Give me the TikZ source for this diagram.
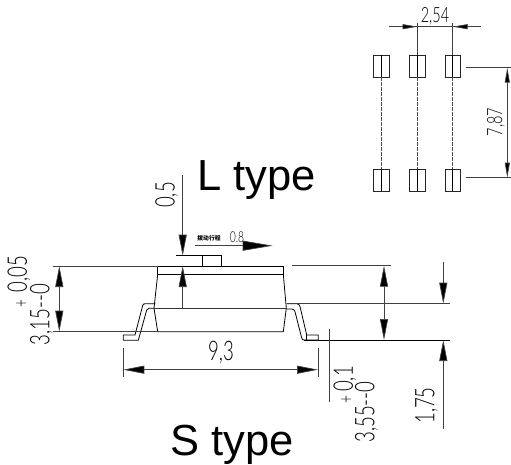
\documentclass[tikz,border=0pt]{standalone}
\usepackage{fontspec}
\usetikzlibrary{arrows.meta}
\setmainfont{Liberation Sans}
\newfontfamily\cadfont[FakeStretch=0.69]{Lato Light}
\newfontfamily\cjk{Noto Sans CJK SC}

\begin{document}
\begin{tikzpicture}[x=1pt, y=-1pt, line width=0.8pt,
    dimline/.style={line width=0.7pt, black!75},
    dimarrow/.style={line width=0.7pt, black!75, {Triangle[length=21pt,width=8pt,fill=black]}-{Triangle[length=21pt,width=8pt,fill=black]}},
    endarrow/.style={line width=0.7pt, black!75, -{Triangle[length=21pt,width=8pt,fill=black]}},
    pad/.style={draw, line width=0.6pt, black!85, minimum width=15.5pt, minimum height=22pt, inner sep=0pt},
    cadtext/.style={font=\cadfont\fontsize{27}{27}\selectfont, inner sep=0pt},
    smalltext/.style={font=\cadfont\fontsize{21}{21}\selectfont, inner sep=0pt},
    plustext/.style={font=\cadfont\fontsize{20}{20}\selectfont, inner sep=0pt},
    bigtext/.style={font=\fontsize{43.5}{43.5}\selectfont, inner sep=0pt},
    ]
    \useasboundingbox (0,0) rectangle (511,465);

    % pads, top right
    \foreach \x/\n in {381.5/a, 417.5/b, 452.7/c} {
        \node[pad] (top\n) at (\x,66) {};
        \node[pad] (bot\n) at (\x,180) {};
        \draw[line width=0.5pt, black!70, dashed, dash pattern=on 4pt off 1pt] (top\n.south) -- (bot\n.north);
        \draw[line width=0.6pt] (top\n.north) -- (top\n.south);
        \draw[line width=0.6pt] (bot\n.north) -- (bot\n.south);
    }
    \coordinate (extb) at (417.5,23);
    \coordinate (extc) at (452.7,23);
    \draw[dimline] (extb) -- (topb.north);
    \draw[dimline] (extc) -- (topc.north);

    % pitch dimension
    \draw[dimline] (389,26.7) -- (481,26.7);
    \draw[endarrow, -{Triangle[length=15pt,width=5pt,fill=black]}] (395,26.7) -- (417.5,26.7);
    \draw[endarrow, -{Triangle[length=15pt,width=5pt,fill=black]}] (475,26.7) -- (452.7,26.7);
    \node[smalltext] (pitch) at (435,16) {2,54};

    % row spacing dimension
    \draw[dimline] (465.7,67.7) -- (511,67.7);
    \draw[dimline] (465.7,177.7) -- (511,177.7);
    \draw[dimarrow, {Triangle[length=15pt,width=5pt,fill=black]}-{Triangle[length=15pt,width=5pt,fill=black]}] (507.3,67.7) -- (507.3,177.7);
    \node[smalltext, rotate=90] (row) at (496,122) {7,87};

    % body
    \draw (157.7,266) -- (283.3,266) -- (283.3,274.3) -- (157.7,274.3) -- cycle;
    \draw (157.7,274.3) -- (154,308.3) -- (157.7,331.7) -- (283.3,331.7) -- (286.3,308.3) -- (283.3,274.3);
    \draw[black!80] (154,308.3) -- (286.3,308.3);

    % button
    \draw (176,255.7) -- (221.7,255.7) -- (221.7,266);
    \draw (202.7,255.7) -- (202.7,266);

    % leads
    \draw (155.3,303.7) -- (145.7,303.7) .. controls (143.5,303.7) and (143.2,304) .. (142.7,305.5) -- (135,335) -- (123.3,335) -- (123.3,340.3) -- (138.3,340.3) -- (146.7,310) .. controls (147,309) and (147.5,308.3) .. (149,308.3) -- (154,308.3);
    \draw (286.7,303.7) -- (296.7,303.7) .. controls (298.5,303.7) and (299.5,305) .. (300,306.5) -- (306.7,335) -- (318.3,335) -- (318.3,340) -- (304,340) .. controls (302.5,340) and (302,339) .. (301.7,338) -- (295,311.7) .. controls (294.5,310) and (293.5,309) .. (291.7,309) -- (286.3,309);
    \draw (306.7,335) -- (306.7,340);

    % extension lines
    \draw[dimline] (52.7,266) -- (157.7,266);
    \draw[dimline] (52.7,331.7) -- (157.7,331.7);
    \draw[dimline] (291.7,265.7) -- (390.7,265.7);
    \draw[dimline] (286.7,303.7) -- (450,303.7);
    \draw[black] (304,340) -- (450,340);
    \draw[dimline] (329.3,329) -- (329.3,401.7);

    % dimensions
    \draw[dimarrow] (59.3,266) -- (59.3,331.7);
    \draw[dimarrow] (384,265.7) -- (384,340);
    \draw[endarrow] (182.7,175) -- (182.7,255.7);
    \draw[endarrow] (182.7,308.3) -- (182.7,266);
    \draw[endarrow] (443.3,261.7) -- (443.3,303.7);
    \draw[endarrow] (443.3,429) -- (443.3,340);
    \draw[dimline] (123.3,348) -- (123.3,376.7);
    \draw[dimline] (318,348) -- (318,376.7);
    \draw[dimarrow] (123.3,369.7) -- (318,369.7);

    % travel arrow
    \draw[endarrow, -{Triangle[length=30pt,width=10pt,fill=black]}] (195,245.7) -- (272.7,245.7);
    \node[inner sep=0pt, font=\cjk\bfseries\fontsize{5.8}{6}\selectfont] (travel) at (209,238.7) {拨动行程};
    \node[inner sep=0pt, font=\cadfont\fontsize{15}{15}\selectfont] (travelval) at (237,237) {0.8};

    % labels
    \node[cadtext, rotate=90] (gap) at (166.7,195) {0,5};
    \node[cadtext, rotate=90] (tolb) at (19,274) {0,05};
    \node[plustext, rotate=90] (tolbp) at (22,303) {+};
    \node[cadtext, rotate=90] (heightb) at (41.5,314.5) {3,15--0};
    \node[cadtext] (width) at (221,353) {9,3};
    \node[cadtext, rotate=90] (tola) at (345,379) {0,1};
    \node[plustext, rotate=90] (tolap) at (347,399) {+};
    \node[cadtext, rotate=90] (heighta) at (366.5,412) {3,55--0};
    \node[cadtext, rotate=90] (lead) at (426.5,405.5) {1,75};

    \node[bigtext, anchor=base west] (ltype) at (197,190.5) {L type};
    \node[bigtext, anchor=base west] (stype) at (170,455) {S type};
\end{tikzpicture}
\end{document}
